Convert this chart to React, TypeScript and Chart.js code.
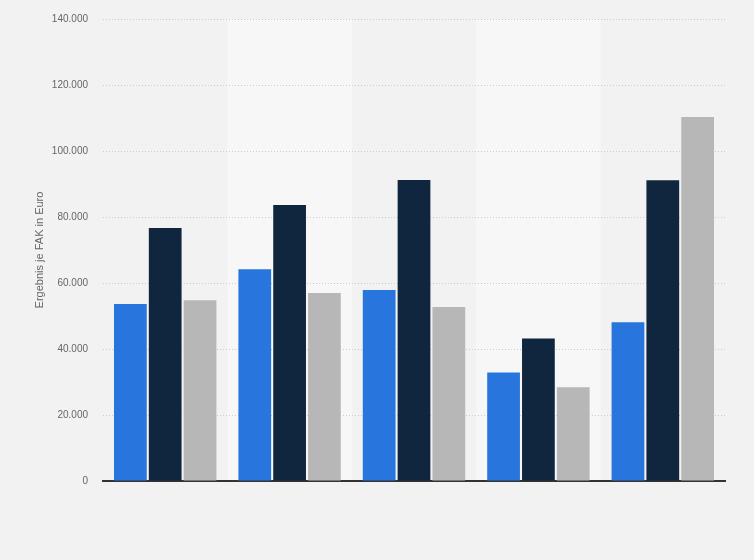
import React, { useEffect, useRef } from "react";
import { Chart, registerables } from "chart.js";

Chart.register(...registerables);

const categories = ["1", "2", "3", "4", "5"];
const seriesA = [53600, 64200, 57900, 32900, 48100];
const seriesB = [76700, 83600, 91200, 43200, 91100];
const seriesC = [54800, 57000, 52700, 28400, 110300];
const seriesNames = ["Serie 1", "Serie 2", "Serie 3"];
const colors = ["#2876dd", "#10263e", "#b7b7b7"];
const yTicks = [0, 20000, 40000, 60000, 80000, 100000, 120000, 140000];

const bandPlugin = {
  id: "bands",
  beforeDraw(chart: any) {
    const { ctx, chartArea, scales } = chart;
    ctx.save();
    ctx.fillStyle = "#f2f2f2";
    ctx.fillRect(0, 0, chart.width, chart.height);
    const x = scales.x;
    const w = (chartArea.right - chartArea.left) / categories.length;
    ctx.fillStyle = "#f7f7f7";
    categories.forEach((_, i) => {
      if (i % 2 === 1) {
        const c = x.getPixelForValue(i);
        ctx.fillRect(c - w / 2, chartArea.top, w, chartArea.bottom - chartArea.top);
      }
    });
    ctx.restore();
  },
};

export default function App() {
  const ref = useRef<HTMLCanvasElement>(null);
  useEffect(() => {
    document.body.style.margin = "0";
    const chart = new Chart(ref.current!, {
      type: "bar",
      data: {
        labels: categories,
        datasets: [seriesA, seriesB, seriesC].map((d, i) => ({
          label: seriesNames[i],
          data: d,
          backgroundColor: colors[i],
          borderWidth: 0,
          categoryPercentage: 0.84,
          barPercentage: 0.94,
        })),
      },
      options: {
        animation: false,
        responsive: false,
        maintainAspectRatio: false,
        layout: { padding: { top: 19, right: 29, bottom: 71, left: 0 } },
        plugins: { legend: { display: false }, tooltip: { enabled: false } },
        scales: {
          x: {
            grid: { display: false },
            ticks: { display: false },
            border: { display: true, color: "#333333", width: 2 },
          },
          y: {
            min: 0,
            max: 140000,
            afterFit: (s: any) => {
              s.width = 103;
              s.paddingTop = 0;
            },
            afterBuildTicks: (s: any) => {
              s.ticks = yTicks.map((v) => ({ value: v }));
            },
            ticks: {
              color: "#666666",
              font: { family: "Liberation Sans, Arial, sans-serif", size: 10 },
              padding: 15,
              callback: (v: any) => Number(v).toLocaleString("de-DE"),
            },
            grid: {
              color: "#cccccc",
              drawTicks: false,
              tickLength: 0,
            },
            border: { display: false, dash: [1, 2] },
            title: {
              display: true,
              text: "Ergebnis je FAK in Euro",
              color: "#666666",
              font: { family: "Liberation Sans, Arial, sans-serif", size: 11 },
              padding: { top: 33, bottom: 0 },
            },
          },
        },
      },
      plugins: [bandPlugin],
    });
    return () => chart.destroy();
  }, []);
  return (
    <div style={{ width: 754, height: 560 }}>
      <canvas ref={ref} width={754} height={560} style={{ display: "block" }} />
    </div>
  );
}
